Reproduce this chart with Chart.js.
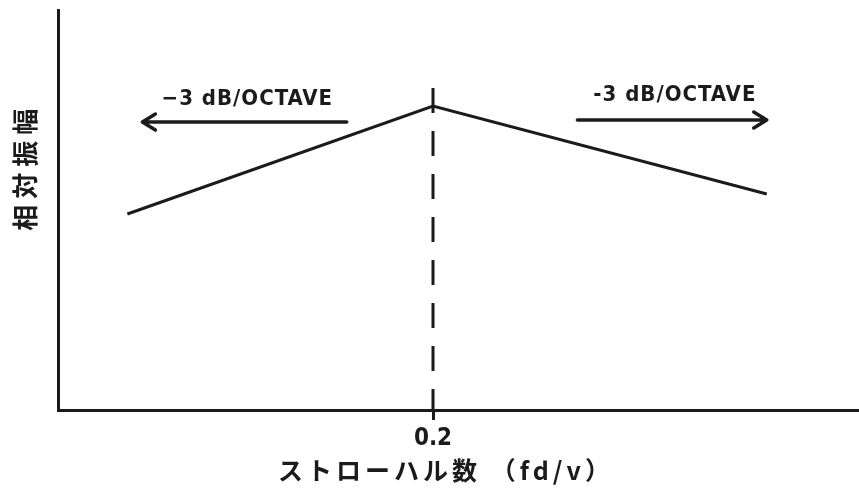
<!DOCTYPE html>
<html>
<head>
    <title>ストローハル数と相対振幅</title>
    <script src="https://cdn.jsdelivr.net/npm/chart.js"></script>
    <style>
        html, body { margin: 0; padding: 0; background: #fff; }
    </style>
</head>
<body>
    <div style="width: 859px; height: 493px">
        <canvas id="strouhalChart"></canvas>
    </div>
    <script>
        // Spectrum shape: rises to the peak at St = 0.2, then falls off
        const strouhal = [0.037, 0.2, 0.378];
        const amplitude = [0.49, 0.76, 0.54];

        // Dashed marker at the peak frequency
        const peakX = [0.2, 0.2];
        const peakY = [0.805, 0];

        const tickValues = [0.2];
        const tickLabels = ['0.2'];

        const xTitle = 'ストローハル数 （fd/v）';
        const yTitle = '相対振幅';

        // Slope arrows and their labels (data units)
        const slopeLabels = ['\u22123 dB/OCTAVE', '-3 dB/OCTAVE'];
        const arrowFrom = [0.154, 0.277];
        const arrowTo = [0.045, 0.378];
        const arrowY = [0.72, 0.725];
        const labelX = [0.101, 0.329];
        const labelY = [0.7775, 0.7875];

        const ink = '#1b1b1b';
        const narrow = "'Liberation Sans Narrow', 'DejaVu Sans Condensed', sans-serif";
        const jp = "'Noto Sans CJK JP', sans-serif";

        // Draws the two slope arrows with their text
        const slopeArrows = {
            id: 'slopeArrows',
            afterDatasetsDraw(chart) {
                const ctx = chart.ctx;
                const xs = chart.scales.x, ys = chart.scales.y;
                ctx.save();
                ctx.strokeStyle = ink;
                ctx.fillStyle = ink;
                ctx.lineWidth = 3.5;
                ctx.lineCap = 'round';
                ctx.lineJoin = 'round';
                slopeLabels.forEach((text, i) => {
                    const x0 = xs.getPixelForValue(arrowFrom[i]);
                    const x1 = xs.getPixelForValue(arrowTo[i]);
                    const y = ys.getPixelForValue(arrowY[i]);
                    const dir = Math.sign(x1 - x0);
                    ctx.beginPath();
                    ctx.moveTo(x0, y);
                    ctx.lineTo(x1, y);
                    ctx.moveTo(x1 - dir * 13, y - 8);
                    ctx.lineTo(x1, y);
                    ctx.lineTo(x1 - dir * 13, y + 8);
                    ctx.stroke();

                    ctx.font = 'bold 22px ' + narrow;
                    ctx.letterSpacing = '1px';
                    ctx.textAlign = 'center';
                    ctx.textBaseline = 'middle';
                    ctx.fillText(text, xs.getPixelForValue(labelX[i]), ys.getPixelForValue(labelY[i]));
                });
                ctx.restore();
            }
        };

        // Spaced-out axis captions
        const axisCaptions = {
            id: 'axisCaptions',
            afterDraw(chart) {
                const ctx = chart.ctx;
                const xs = chart.scales.x, ys = chart.scales.y;
                ctx.save();
                ctx.fillStyle = ink;
                ctx.textAlign = 'center';
                ctx.textBaseline = 'middle';

                ctx.font = 'bold 25px ' + jp;
                ctx.letterSpacing = '4px';
                ctx.fillText(xTitle, xs.getPixelForValue(tickValues[0]) + 13, xs.bottom - 23);

                ctx.translate(ys.right - 33, ys.getPixelForValue(0.608));
                ctx.rotate(-Math.PI / 2);
                ctx.font = 'bold 26px ' + jp;
                ctx.letterSpacing = '6px';
                ctx.fillText(yTitle, 0, 0);
                ctx.restore();
            }
        };

        const ctx = document.getElementById('strouhalChart').getContext('2d');
        new Chart(ctx, {
            type: 'scatter',
            data: {
                datasets: [{
                    data: strouhal.map((x, i) => ({ x: x, y: amplitude[i] })),
                    showLine: true,
                    borderColor: ink,
                    borderWidth: 3,
                    pointRadius: 0
                }, {
                    data: peakX.map((x, i) => ({ x: x, y: peakY[i] })),
                    showLine: true,
                    borderColor: ink,
                    borderWidth: 3,
                    borderDash: [25, 18],
                    pointRadius: 0
                }]
            },
            options: {
                responsive: true,
                maintainAspectRatio: false,
                animation: false,
                layout: { padding: { top: 10, right: 0, left: 0, bottom: 0 } },
                plugins: {
                    legend: { display: false },
                    tooltip: { enabled: false }
                },
                scales: {
                    x: {
                        type: 'linear',
                        min: 0,
                        max: 0.4272,
                        afterBuildTicks: (scale) => {
                            scale.ticks = tickValues.map(v => ({ value: v }));
                        },
                        afterFit: (scale) => { scale.height = 83; },
                        ticks: {
                            color: ink,
                            font: { family: narrow, size: 24, weight: 'bold' },
                            padding: 4,
                            maxRotation: 0,
                            callback: (v) => tickLabels[tickValues.indexOf(v)]
                        },
                        grid: {
                            drawOnChartArea: false,
                            tickLength: 10,
                            lineWidth: 3,
                            color: ink
                        },
                        border: { display: true, width: 3, color: ink }
                    },
                    y: {
                        min: 0,
                        max: 1,
                        afterFit: (scale) => { scale.width = 58; },
                        ticks: { display: false },
                        grid: { display: false },
                        border: { display: true, width: 3, color: ink }
                    }
                }
            },
            plugins: [slopeArrows, axisCaptions]
        });
    </script>
</body>
</html>
